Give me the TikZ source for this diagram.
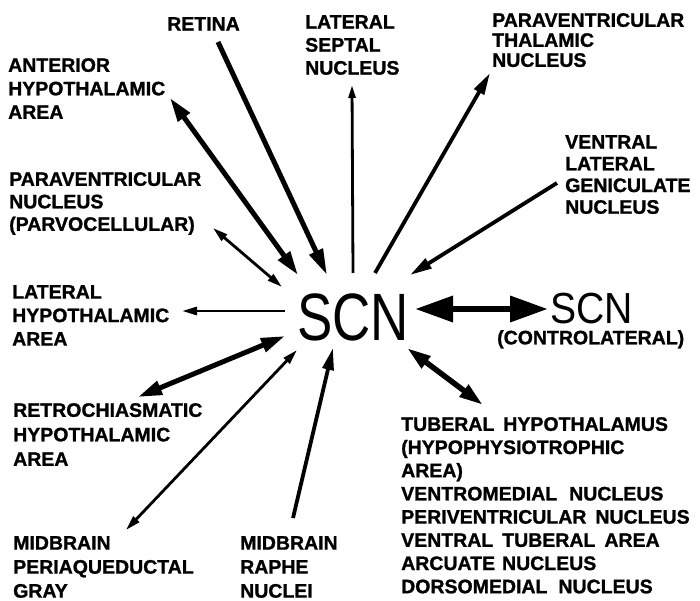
\documentclass[tikz,border=0pt]{standalone}
\usepackage{fontspec}
\usepackage{graphicx}
\setmainfont{Liberation Sans}
\newfontfamily\lblfont{Liberation Sans}[BoldFeatures={FakeBold=1.2}]
\usetikzlibrary{arrows.meta}
\definecolor{scnInk}{RGB}{0,0,0}

\begin{document}
\begin{tikzpicture}[x=1pt,y=-1pt,
  lbl/.style={anchor=north west, inner sep=0pt, align=left, text=scnInk, font=\fontsize{19.5}{23.5}\selectfont\lblfont\bfseries},
  thk/.style={draw=scnInk, line width=5pt, -{Triangle[length=26pt,width=14pt]}},
  thkd/.style={draw=scnInk, line width=5pt, {Triangle[length=24pt,width=14pt]}-{Triangle[length=24pt,width=14pt]}},
  med/.style={draw=scnInk, line width=3.8pt, -{Triangle[length=22pt,width=11pt]}},
  thn/.style={draw=scnInk, line width=2.8pt, -{Triangle[length=15pt,width=8pt]}},
  thnd/.style={draw=scnInk, line width=2.8pt, {Triangle[length=15pt,width=8pt]}-{Triangle[length=15pt,width=8pt]}},
  bigd/.style={draw=scnInk, line width=6.5pt, {Triangle[length=38pt,width=25pt]}-{Triangle[length=38pt,width=25pt]}}]
\path[fill=white] (0,0) rectangle (700,601);
\useasboundingbox (0,0) rectangle (700,601);

\node[inner sep=0pt, anchor=base west, text=scnInk] (scn) at (297,340) {\scalebox{0.79}[1]{\fontsize{67}{67}\selectfont SCN}};
\node[inner sep=0pt, anchor=base west, text=scnInk] (scnc) at (550,323) {\scalebox{0.9}[1]{\fontsize{43.5}{43.5}\selectfont SCN}};
\node[lbl] (contra) at (497,330) {(CONTROLATERAL)};

\node[lbl] (retina) at (167,17) {RETINA};
\node[lbl, font=\fontsize{19.5}{23}\selectfont\lblfont\bfseries] (septal) at (305,15) {LATERAL\\SEPTAL\\NUCLEUS};
\node[lbl, font=\fontsize{19.5}{20}\selectfont\lblfont\bfseries] (pvt) at (492,13) {PARAVENTRICULAR\\THALAMIC\\NUCLEUS};
\node[lbl, font=\fontsize{19.5}{21.7}\selectfont\lblfont\bfseries] (vlgn) at (565,135) {VENTRAL\\LATERAL\\GENICULATE\\NUCLEUS};
\node[lbl] (aha) at (8,58) {ANTERIOR\\HYPOTHALAMIC\\AREA};
\node[lbl, font=\fontsize{19.5}{22.5}\selectfont\lblfont\bfseries] (pvn) at (9,172) {PARAVENTRICULAR\\NUCLEUS\\(PARVOCELLULAR)};
\node[lbl] (lha) at (12,285) {LATERAL\\HYPOTHALAMIC\\AREA};
\node[lbl, font=\fontsize{19.5}{24.5}\selectfont\lblfont\bfseries] (rcha) at (13,403) {RETROCHIASMATIC\\HYPOTHALAMIC\\AREA};
\node[lbl, font=\fontsize{19.5}{24}\selectfont\lblfont\bfseries] (pag) at (13,536) {MIDBRAIN\\PERIAQUEDUCTAL\\GRAY};
\node[lbl, font=\fontsize{19.5}{24}\selectfont\lblfont\bfseries] (raphe) at (240,536) {MIDBRAIN\\RAPHE\\NUCLEI};
\node[lbl, font=\fontsize{19.5}{23.2}\selectfont\lblfont\bfseries] (tuberal) at (401,417) {TUBERAL\hspace{9pt}HYPOTHALAMUS\\(HYPOPHYSIOTROPHIC\\AREA)\\VENTROMEDIAL\hspace{12pt}NUCLEUS\\PERIVENTRICULAR\hspace{9pt}NUCLEUS\\VENTRAL\hspace{9pt}TUBERAL\hspace{9pt}AREA\\ARCUATE\hspace{7pt}NUCLEUS\\DORSOMEDIAL\hspace{11pt}NUCLEUS};

\coordinate (retinaA) at (218,42);   \coordinate (retinaB) at (327,275);
\coordinate (ahaA) at (170,98);      \coordinate (ahaB) at (298,275);
\coordinate (septalA) at (353,273);  \coordinate (septalB) at (352,85);
\coordinate (pvtA) at (375,273);     \coordinate (pvtB) at (490,73);
\coordinate (vlgnA) at (557,183);    \coordinate (vlgnB) at (410,275);
\coordinate (pvnA) at (213,228);     \coordinate (pvnB) at (282,287);
\coordinate (lhaA) at (285,311);     \coordinate (lhaB) at (182,311);
\coordinate (rchaA) at (285,336);    \coordinate (rchaB) at (138,397);
\coordinate (pagA) at (297,350);     \coordinate (pagB) at (126,530);
\coordinate (rapheA) at (293,518);   \coordinate (rapheB) at (333,348);
\coordinate (contraA) at (415,309);  \coordinate (contraB) at (548,309);
\coordinate (tuberalA) at (407,348); \coordinate (tuberalB) at (483,405);

\draw[thk] (retinaA) -- (retinaB);
\draw[thkd] (ahaA) -- (ahaB);
\draw[thn, -{Triangle[length=13pt,width=7pt]}] (septalA) -- (septalB);
\draw[med] (pvtA) -- (pvtB);
\draw[med] (vlgnA) -- (vlgnB);
\draw[thnd] (pvnA) -- (pvnB);
\draw[thn] (lhaA) -- (lhaB);
\draw[thkd] (rchaA) -- (rchaB);
\draw[thnd] (pagA) -- (pagB);
\draw[med] (rapheA) -- (rapheB);
\draw[bigd] (contraA) -- (contraB);
\draw[thkd, line width=5.5pt] (tuberalA) -- (tuberalB);
\end{tikzpicture}
\end{document}
